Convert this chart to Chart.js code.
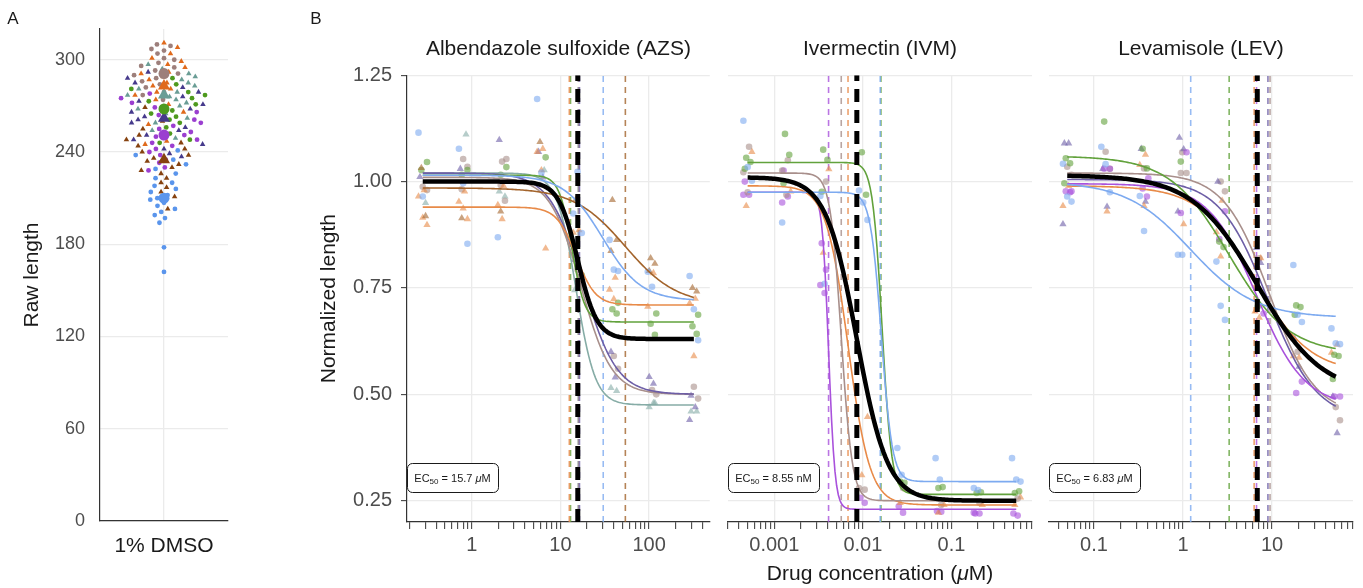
<!DOCTYPE html>
<html>
<head>
<meta charset="utf-8">
<title>Raw and normalized length</title>
<script src="https://cdn.jsdelivr.net/npm/chart.js@4.4.1/dist/chart.umd.min.js"></script>
<style>
  body { margin: 0; background: #fff; }
  #fig { position: relative; width: 1363px; height: 588px; overflow: hidden; font-family: 'Liberation Sans', Arial, sans-serif; color: #1a1a1a; }
  #fig canvas { position: absolute; top: 0; }
  .tag { position: absolute; font-size: 17px; transform: translate(-50%, -50%); }
  #xtitle { position: absolute; left: 880px; top: 573px; font-size: 21px; transform: translate(-50%, -50%); white-space: nowrap; }
</style>
</head>
<body>
<div id="fig">
  <canvas id="rawChart" width="240" height="588" style="left:0"></canvas>
  <canvas id="azsChart" width="414" height="588" style="left:300px"></canvas>
  <canvas id="ivmChart" width="324" height="588" style="left:718px"></canvas>
  <canvas id="levChart" width="324" height="588" style="left:1039px"></canvas>
  <div class="tag" style="left:13px;top:19px">A</div>
  <div class="tag" style="left:316px;top:19px">B</div>
  <div id="xtitle">Drug concentration (<i>μ</i>M)</div>
</div>
<script>
Chart.defaults.font.family = "'Liberation Sans', Arial, sans-serif";

// ---- A: raw length of control worms (1% DMSO), one array per group ----
const rawTaupe  = [310, 309, 307, 306, 304, 301, 300, 298, 296, 295, 293, 291, 290, 288, 286, 284, 282, 279, 277, 274];
const rawOrange = [311, 308, 304, 301, 299, 297, 295, 292, 291, 289, 287, 285, 283, 281, 279, 277, 274, 271, 266, 258, 251, 247, 245];
const rawTeal   = [297, 294, 291, 289, 287, 285, 283, 281, 279, 277, 276, 274, 272, 270, 268, 265, 262, 259, 254, 249];
const rawGreen  = [288, 284, 281, 279, 277, 275, 273, 271, 269, 267, 265, 263, 261, 259, 256, 252, 248, 246];
const rawIndigo = [292, 288, 285, 282, 279, 276, 273, 271, 268, 266, 263, 261, 259, 256, 254, 251, 248, 245, 242, 239, 237];
const rawPurple = [278, 275, 272, 269, 266, 264, 261, 259, 257, 255, 253, 251, 250, 248, 246, 244, 242, 240, 238, 235, 233, 230, 228];
const rawBrown  = [269, 260, 255, 251, 248, 246, 244, 242, 240, 238, 236, 234, 232, 230, 228, 226, 223, 220, 217, 214, 211, 203];
const rawBlue   = [241, 238, 235, 232, 229, 226, 223, 220, 218, 216, 214, 212, 210, 209, 207, 205, 203, 201, 199, 197, 194, 178, 162];
const rawMeans  = [291, 283, 277, 268, 262, 251, 235, 210];
const rawTicks  = [0, 60, 120, 180, 240, 300];

// ---- B: normalized length, values per concentration (replicates) ----
const azsConc = [0.28, 0.8, 2.2, 6.1, 15.6, 40, 108, 320];
const azsBlue   = [[1.115, 0.965], [1.077, 0.996, 0.854], [0.869], [1.194, 1.021], [0.925, 1.023, 0.879], [0.863, 0.793, 0.79], [0.788, 0.753], [0.778, 0.70, 0.627]];
const azsBrown  = [[1.032, 0.919], [0.914], [0.93], [1.093], [0.959], [0.957, 0.863, 0.837], [0.82, 0.807, 0.79], [0.75, 0.742]];
const azsOrange = [[0.98, 0.965, 0.915, 0.898], [0.977, 0.953, 0.937, 0.912], [0.99, 0.945, 0.912], [1.077, 1.07, 1.027, 0.843], [0.886, 0.88, 0.769], [0.774, 0.746, 0.724], [0.785, 0.706], [0.725, 0.714, 0.59]];
const azsGreen  = [[1.046, 1.027], [1.027, 1.016], [1.034, 1.016], [1.057], [0.78], [0.715, 0.70, 0.69], [0.69, 0.666, 0.64], [0.687, 0.66, 0.642]];
const azsIndigo = [[1.011], [1.03], [1.098], [1.07, 1.01], [0.816], [0.6, 0.54], [0.541, 0.525], [0.497, 0.47, 0.44]];
const azsTaupe  = [[0.988, 0.98], [1.053, 1.035, 0.982], [1.047, 1.053, 0.992, 0.955], [], [0.793, 0.76], [0.59, 0.56], [0.51, 0.5], [0.518, 0.49]];
const azsTeal   = [[0.95], [1.111], [0.965, 0.977], [1.027], [0.753, 0.745], [0.508, 0.515], [0.48, 0.47, 0.48], [0.46, 0.46]];

const ivmConc = [0.0005, 0.00137, 0.0037, 0.0101, 0.0274, 0.074, 0.2, 0.54];
const ivmBlue   = [[1.143, 1.034, 1.002], [0.904], [0.966, 0.76], [0.979, 0.951, 0.91], [0.374, 0.311], [0.35, 0.30], [0.28, 0.275], [0.35, 0.30, 0.295]];
const ivmGreen  = [[1.056, 1.046, 1.03], [1.112, 1.063, 0.996], [1.075, 1.051, 0.976], [1.069, 0.969], [0.295, 0.292], [0.28, 0.282], [0.268, 0.27], [0.268, 0.272]];
const ivmTaupe  = [[1.082, 1.022, 0.975], [1.05, 1.026, 0.969], [1.0], [0.276, 0.28], [0.28], [0.24], [0.245], [0.255]];
const ivmOrange = [[1.07, 0.943], [0.977], [1.029, 0.833], [0.447, 0.31], [0.277, 0.245], [0.24, 0.222], [0.24], [0.258, 0.24]];
const ivmPurple = [[1.0, 0.969, 0.969], [1.026, 0.965, 0.951], [0.855, 0.793, 0.757, 0.738], [0.257, 0.245], [0.237, 0.222], [0.226, 0.224], [0.22, 0.22, 0.222], [0.22, 0.215]];

const levConc = [0.05, 0.135, 0.365, 0.98, 2.65, 7.2, 19.4, 52];
const levBlue   = [[1.042, 0.965, 0.953], [1.082, 1.041, 0.975], [0.966, 0.884], [0.828, 0.828], [0.812, 0.708, 0.675], [], [0.804, 0.687, 0.67], [0.655, 0.62, 0.618]];
const levGreen  = [[1.055, 1.043, 0.996], [1.141], [1.077, 1.031], [1.047], [0.859, 0.846], [0.707], [0.709, 0.705, 0.687], [0.593, 0.59, 0.536]];
const levOrange = [[0.99, 0.943], [0.93], [1.063, 1.039, 0.943], [0.9], [0.955, 0.881, 0.824], [0.82, 0.695, 0.68], [0.586, 0.59], [0.617, 0.598]];
const levPurple = [[0.977, 0.977, 0.975], [1.03, 1.03], [1.008, 0.984, 0.965], [1.069, 0.926], [0.93, 0.865], [0.69], [0.53, 0.503], [0.495, 0.495]];
const levIndigo = [[1.09, 1.09, 0.9], [1.03, 0.941], [1.077, 0.953], [1.103, 1.076, 0.93], [1.0], [0.844, 0.809], [0.63, 0.565], [0.495, 0.409]];
const levTaupe  = [[1.035, 1.016], [1.07, 1.03], [1.031], [1.069, 1.02, 1.02], [1.0, 0.977], [0.82], [0.6], [0.47, 0.439]];

// fitted dose-response curves per series: top, bottom, midpoint, hill; ec50 = dashed lines
const azsSeries = ['blue', 'brown', 'orange', 'green', 'indigo', 'taupe', 'teal'];
const azsTop    = [1.015, 0.985, 0.94, 1.015, 1.02, 1.01, 1.02];
const azsBottom = [0.72, 0.71, 0.71, 0.67, 0.50, 0.50, 0.475];
const azsMid    = [30, 54, 15, 13.5, 18, 17, 15];
const azsHill   = [2, 1.5, 4, 6, 2.3, 2.5, 4];
const azsEc50   = [30.4, 54, 12.6, 13.0, 16.4, 16.0, 15.9];
const azsPooled = [1.0, 0.63, 15.7, 4];

const ivmSeries = ['blue', 'green', 'taupe', 'orange', 'purple'];
const ivmTop    = [0.975, 1.045, 1.02, 0.99, 0.975];
const ivmBottom = [0.295, 0.265, 0.25, 0.24, 0.23];
const ivmMid    = [0.0162, 0.0165, 0.0057, 0.0068, 0.0041];
const ivmHill   = [7, 8, 7, 3.5, 12];
const ivmEc50   = [0.0157, 0.016, 0.0057, 0.0068, 0.0041];
const ivmPooled = [1.01, 0.25, 0.00855, 2.5];

const levSeries = ['blue', 'green', 'orange', 'purple', 'indigo', 'taupe'];
const levTop    = [1.0, 1.06, 0.99, 0.995, 1.005, 1.02];
const levBottom = [0.68, 0.595, 0.55, 0.47, 0.44, 0.45];
const levMid    = [1.22, 3.3, 6.4, 6.7, 9.0, 9.4];
const levHill   = [1.2, 1.3, 1.4, 1.6, 1.6, 1.7];
const levEc50   = [1.22, 3.3, 6.3, 6.7, 9.0, 9.5];
const levPooled = [1.015, 0.5, 6.83, 1.2];

const normTicks = [0.25, 0.5, 0.75, 1.0, 1.25];

// colours / shapes
const rawColors = ['#9d7f7b', '#e06a1c', '#6a9d95', '#4e9a1e', '#463a8c', '#9b3fd0', '#86420f', '#5a95ec'];
const rawShapes = ['circle', 'triangle', 'triangle', 'circle', 'triangle', 'circle', 'triangle', 'circle'];
const COL = { blue: '#7daaf0', brown: '#a3642c', orange: '#e88a48', green: '#62a23c', indigo: '#6d5ea6', taupe: '#a88f8b', teal: '#86aca6', purple: '#a952dc' };
const SHAPE = { blue: 'circle', brown: 'triangle', orange: 'triangle', green: 'circle', indigo: 'triangle', taupe: 'circle', teal: 'triangle', purple: 'circle' };

function fade(hex, a) {
  const n = parseInt(hex.slice(1), 16);
  return `rgba(${n >> 16},${(n >> 8) & 255},${n & 255},${a})`;
}

function isDecade(v) {
  const l = Math.log10(v);
  return Math.abs(l - Math.round(l)) < 1e-9;
}

function logTicks(scale) {
  const t = [];
  for (let e = Math.floor(Math.log10(scale.min)); e <= Math.ceil(Math.log10(scale.max)); e++) {
    for (let m = 1; m < 10; m++) {
      const v = +(m * Math.pow(10, e)).toPrecision(3);
      if (v >= scale.min && v <= scale.max) t.push({ value: v });
    }
  }
  scale.ticks = t;
}

function logistic(p, from, to) {
  const [top, bottom, mid, hill] = p;
  const a = Math.log10(from), b = Math.log10(to), pts = [];
  for (let i = 0; i <= 160; i++) {
    const x = Math.pow(10, a + (b - a) * i / 160);
    pts.push({ x, y: bottom + (top - bottom) / (1 + Math.pow(x / mid, hill)) });
  }
  return pts;
}

const vline = e => [{ x: e, y: 0.2 }, { x: e, y: 1.25 }];
// small fixed horizontal offset so replicates do not sit on top of each other
const jit = (s, j) => Math.pow(10, (((j * 3 + s * 2) % 7) - 3) * 0.016);

// EC50 label box in the lower left corner of each panel
const ecBoxPlugin = {
  id: 'ecBox',
  afterDatasetsDraw(chart, args, opts) {
    const { ctx, chartArea: a } = chart;
    const x0 = a.left, y0 = a.bottom - 59, w = 91, h = 29;
    ctx.save();
    ctx.beginPath();
    ctx.roundRect(x0 + 0.5, y0 + 0.5, w, h, 5);
    ctx.fillStyle = '#fff';
    ctx.fill();
    ctx.lineWidth = 1;
    ctx.strokeStyle = '#1a1a1a';
    ctx.stroke();
    const fam = Chart.defaults.font.family;
    const parts = [
      ['EC', `11px ${fam}`, 0],
      ['50', `8px ${fam}`, 3],
      [` = ${opts.value} `, `11px ${fam}`, 0],
      [opts.italic, `italic 11px ${fam}`, 0],
      [opts.unit, `11px ${fam}`, 0]
    ];
    let total = 0;
    parts.forEach(p => { ctx.font = p[1]; total += ctx.measureText(p[0]).width; });
    let x = x0 + w / 2 - total / 2;
    const y = y0 + h / 2 + 1;
    ctx.fillStyle = '#1a1a1a';
    ctx.textBaseline = 'middle';
    parts.forEach(p => {
      ctx.font = p[1];
      ctx.fillText(p[0], x, y + p[2]);
      x += ctx.measureText(p[0]).width;
    });
    ctx.restore();
  }
};

// ---- panel A ----
const rawGroups = [rawTaupe, rawOrange, rawTeal, rawGreen, rawIndigo, rawPurple, rawBrown, rawBlue];
const rawDatasets = [];
rawGroups.forEach((vals, g) => {
  rawDatasets.push({
    data: vals.map(v => ({ x: 0, y: v })),
    pointStyle: rawShapes[g],
    pointRadius: rawShapes[g] === 'triangle' ? 3.2 : 2.4,
    backgroundColor: rawColors[g],
    borderWidth: 0,
    order: 2
  });
});
rawMeans.forEach((m, g) => {
  rawDatasets.push({
    data: [{ x: 0, y: m }],
    pointStyle: rawShapes[g],
    pointRadius: rawShapes[g] === 'triangle' ? 7 : 5.5,
    backgroundColor: rawColors[g],
    borderWidth: 0,
    order: 1,
    isMean: true
  });
});

const rawChart = new Chart(document.getElementById('rawChart'), {
  type: 'scatter',
  data: { datasets: rawDatasets },
  options: {
    responsive: false,
    animation: false,
    events: [],
    layout: { padding: { left: 16, top: 29, right: 12, bottom: 0 } },
    plugins: { legend: { display: false }, tooltip: { enabled: false } },
    scales: {
      x: {
        type: 'linear', min: -1, max: 1,
        afterBuildTicks: s => { s.ticks = [{ value: 0 }]; },
        afterFit: s => { s.height = 67; },
        ticks: { callback: () => '1% DMSO', color: '#1a1a1a', font: { size: 21 }, padding: 13, maxRotation: 0 },
        grid: { color: '#ebebeb', lineWidth: 1.3, drawTicks: false },
        border: { color: '#333', width: 1.2 }
      },
      y: {
        min: 0, max: 320,
        afterBuildTicks: s => { s.ticks = rawTicks.map(v => ({ value: v })); },
        afterFit: s => { s.width = 84; },
        ticks: { color: '#4d4d4d', font: { size: 18 }, padding: 15 },
        grid: { color: '#ebebeb', lineWidth: 1.3, drawTicks: false },
        border: { color: '#333', width: 1.2 },
        title: { display: true, text: 'Raw length', color: '#1a1a1a', font: { size: 21 }, padding: { top: 4, bottom: 4 } }
      }
    }
  }
});

// simple beeswarm: place points in pixel space, nearest free spot to the centre line
function swarm(chart, D) {
  const xs = chart.scales.x, ys = chart.scales.y;
  const pxPerUnit = xs.getPixelForValue(1) - xs.getPixelForValue(0);
  const all = [];
  chart.data.datasets.forEach(ds => {
    if (ds.isMean) return;
    ds.data.forEach(pt => all.push({ pt, py: ys.getPixelForValue(pt.y) }));
  });
  all.sort((a, b) => a.py - b.py);
  const placed = [];
  all.forEach(a => {
    const bad = [];
    placed.forEach(b => {
      const dy = Math.abs(a.py - b.py);
      if (dy < D) {
        const w = Math.sqrt(D * D - dy * dy);
        bad.push([b.px - w, b.px + w]);
      }
    });
    const cands = [0];
    bad.forEach(([l, r]) => cands.push(l, r));
    cands.sort((p, q) => Math.abs(p) - Math.abs(q));
    const px = cands.find(c => bad.every(([l, r]) => c <= l + 1e-6 || c >= r - 1e-6));
    a.px = px;
    placed.push(a);
    a.pt.x = px / pxPerUnit;
  });
  chart.update('none');
}
swarm(rawChart, 7.2);

// ---- panel B ----
function makePanel(id, o) {
  const ds = [];
  o.series.forEach((k, i) => {
    ds.push({ type: 'line', data: vline(o.ec50[i]), borderColor: fade(COL[k], 0.8), borderWidth: 1.6, borderDash: [6, 5], pointRadius: 0, order: 5 });
  });
  o.series.forEach((k, i) => {
    const pts = [];
    o.values[i].forEach((reps, c) => reps.forEach((v, j) => pts.push({ x: o.conc[c] * jit(i, j), y: v })));
    ds.push({
      type: 'scatter', data: pts, pointStyle: SHAPE[k],
      pointRadius: SHAPE[k] === 'triangle' ? 4.2 : 3.3,
      backgroundColor: fade(COL[k], 0.6), borderWidth: 0, order: 4
    });
  });
  const from = o.conc[0], to = o.conc[o.conc.length - 1];
  o.series.forEach((k, i) => {
    ds.push({ type: 'line', data: logistic([o.top[i], o.bottom[i], o.mid[i], o.hill[i]], from, to), borderColor: COL[k], borderWidth: 1.6, pointRadius: 0, order: 3 });
  });
  ds.push({ type: 'line', data: vline(o.pooled[2]), borderColor: '#000', borderWidth: 5, borderDash: [13, 8], pointRadius: 0, order: 2 });
  ds.push({ type: 'line', data: logistic(o.pooled, from, to), borderColor: '#000', borderWidth: 4.5, pointRadius: 0, order: 1 });

  const first = o.yAxis;
  return new Chart(document.getElementById(id), {
    type: 'scatter',
    data: { datasets: ds },
    options: {
      responsive: false,
      animation: false,
      events: [],
      layout: { padding: { left: o.padLeft, right: o.padRight, top: 0, bottom: 0 } },
      plugins: {
        legend: { display: false },
        tooltip: { enabled: false },
        title: { display: true, text: o.title, color: '#1a1a1a', font: { size: 21, weight: 'normal' }, padding: { top: 37, bottom: 13 }, fullSize: false },
        ecBox: o.box
      },
      scales: {
        x: {
          type: 'logarithmic', min: o.xmin, max: o.xmax,
          afterBuildTicks: logTicks,
          afterFit: s => { s.height = 66; },
          ticks: {
            autoSkip: false, maxRotation: 0, padding: 4, color: '#4d4d4d', font: { size: 20 },
            callback: v => isDecade(v) ? String(v) : ''
          },
          grid: {
            color: c => (c.tick && isDecade(c.tick.value)) ? '#ebebeb' : 'rgba(0,0,0,0)',
            lineWidth: 1.3, tickColor: '#333', tickLength: 7, tickWidth: 1
          },
          border: { color: '#333', width: 1.2 }
        },
        y: {
          min: 0.2, max: 1.25,
          afterBuildTicks: s => { s.ticks = normTicks.map(v => ({ value: v })); },
          afterFit: s => { s.width = first ? 94 : 0; },
          ticks: { display: first, color: '#4d4d4d', font: { size: 20 }, padding: 9, callback: v => v.toFixed(2) },
          grid: { color: '#ebebeb', lineWidth: 1.3, drawTicks: first, tickColor: '#333', tickLength: 6, tickWidth: 1 },
          border: { display: first, color: '#333', width: 1.2 },
          title: { display: first, text: 'Normalized length', color: '#1a1a1a', font: { size: 21 }, padding: { top: 4, bottom: 4 } }
        }
      }
    },
    plugins: [ecBoxPlugin]
  });
}

makePanel('azsChart', {
  title: 'Albendazole sulfoxide (AZS)', yAxis: true, padLeft: 13, padRight: 3,
  xmin: 0.186, xmax: 484,
  conc: azsConc, series: azsSeries,
  values: [azsBlue, azsBrown, azsOrange, azsGreen, azsIndigo, azsTaupe, azsTeal],
  top: azsTop, bottom: azsBottom, mid: azsMid, hill: azsHill, ec50: azsEc50, pooled: azsPooled,
  box: { value: '15.7', italic: 'μ', unit: 'M' }
});

makePanel('ivmChart', {
  title: 'Ivermectin (IVM)', yAxis: false, padLeft: 10, padRight: 10,
  xmin: 0.000312, xmax: 0.813,
  conc: ivmConc, series: ivmSeries,
  values: [ivmBlue, ivmGreen, ivmTaupe, ivmOrange, ivmPurple],
  top: ivmTop, bottom: ivmBottom, mid: ivmMid, hill: ivmHill, ec50: ivmEc50, pooled: ivmPooled,
  box: { value: '8.55', italic: '', unit: 'nM' }
});

makePanel('levChart', {
  title: 'Levamisole (LEV)', yAxis: false, padLeft: 10, padRight: 10,
  xmin: 0.0312, xmax: 81.3,
  conc: levConc, series: levSeries,
  values: [levBlue, levGreen, levOrange, levPurple, levIndigo, levTaupe],
  top: levTop, bottom: levBottom, mid: levMid, hill: levHill, ec50: levEc50, pooled: levPooled,
  box: { value: '6.83', italic: 'μ', unit: 'M' }
});
</script>
</body>
</html>
